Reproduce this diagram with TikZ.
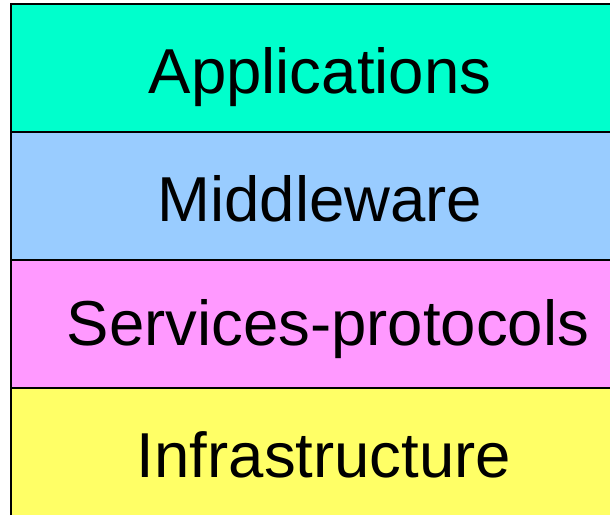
\documentclass[tikz,border=0pt]{standalone}
\usepackage{fontspec}
\setmainfont{Liberation Sans}
\usepackage{xcolor}
\definecolor{appcol}{HTML}{00FFCC}
\definecolor{midcol}{HTML}{99CCFF}
\definecolor{servcol}{HTML}{FF99FF}
\definecolor{infcol}{HTML}{FFFF66}
\tikzset{layertext/.style={anchor=base,font=\fontsize{63.5}{70}\selectfont}}
\begin{document}
\begin{tikzpicture}[x=1pt,y=-1pt]
        \useasboundingbox (0,0) rectangle (610,515);

        \fill[appcol] (11,4) rectangle (610,132);
        \fill[midcol] (11,132) rectangle (610,260);
        \fill[servcol] (11,260) rectangle (610,388);
        \fill[infcol] (11,388) rectangle (610,515);

        \draw[line width=1.5pt] (11,515) -- (11,4) -- (610,4);
        \draw[line width=1.3pt] (11,132) -- (610,132);
        \draw[line width=1.3pt] (11,260) -- (610,260);
        \draw[line width=1.3pt] (11,388) -- (610,388);

        \node[layertext] (apps) at (320,93) {Applications};
        \node[layertext] (mid) at (320,221) {Middleware};
        \node[layertext] (serv) at (328,345) {Services-protocols};
        \node[layertext] (infra) at (324,477) {Infrastructure};
    \end{tikzpicture}
\end{document}
